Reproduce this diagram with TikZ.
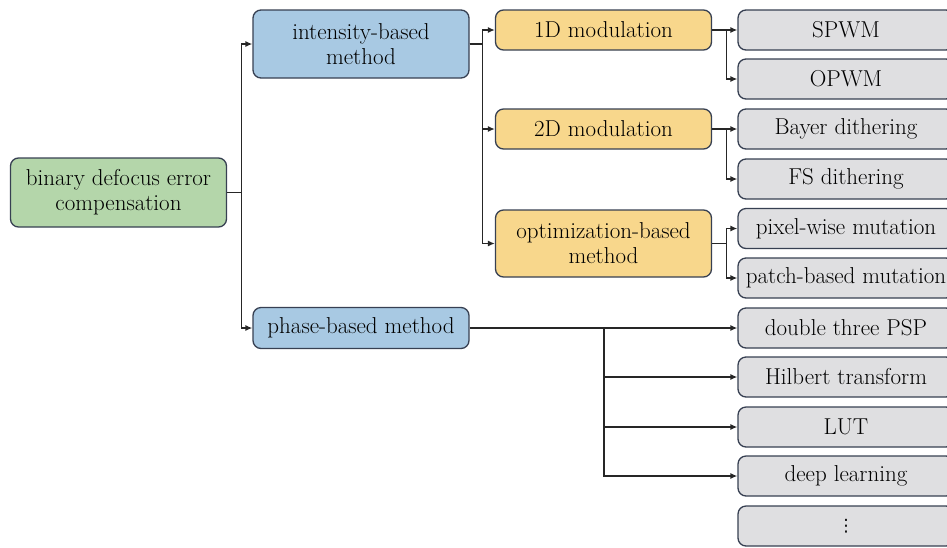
\documentclass[tikz,border=0pt]{standalone}
\usepackage{fontspec}
\usepackage{tikz}
\usetikzlibrary{arrows.meta}
\usepackage{xcolor}

\newfontfamily\dotsfont{DejaVu Sans}

\definecolor{rootgreen}{RGB}{180,214,170}
\definecolor{methblue}{RGB}{168,201,227}
\definecolor{modyellow}{RGB}{248,215,140}
\definecolor{leafgray}{RGB}{223,223,225}
\definecolor{edgeslate}{RGB}{55,64,82}

\tikzset{
  box/.style={draw=edgeslate, line width=1.3pt, rounded corners=8pt, align=center,
    minimum width=216pt, inner sep=1pt, font=\fontsize{23}{25}\selectfont},
  rootbox/.style={box, fill=rootgreen, minimum height=69pt},
  methodbox/.style={box, fill=methblue},
  modbox/.style={box, fill=modyellow},
  leafbox/.style={box, fill=leafgray, minimum height=40pt},
  link/.style={draw=black!85, line width=1.3pt, -{Latex[length=7pt,width=6pt]}}
}

\begin{document}
\begin{tikzpicture}[x=1pt,y=-1pt]
  \clip (0,0) rectangle (947,547);
  \useasboundingbox (0,0) rectangle (947,547);

  \node[rootbox] (BiDe) at (118.5,192.5) {binary defocus error\\compensation};

  \node[methodbox, minimum height=68pt] (InBa) at (361,44) {intensity-based\\method};
  \node[methodbox, minimum height=41pt] (PhBa) at (361,328) {phase-based method};

  \draw[link] (BiDe.east) -- ++(14,0) |- (InBa.west);
  \draw[link] (BiDe.east) -- ++(14,0) |- (PhBa.west);

  % %intensity branch
  \node[modbox, minimum height=40pt] (OnMo) at (603.5,30) {1D modulation};
  \node[modbox, minimum height=40pt] (TwMo) at (603.5,129) {2D modulation};
  \node[modbox, minimum height=67pt] (OpMe) at (603.5,243.5) {optimization-based\\method};

  \draw[link] (InBa.east) -- ++(13,0) |- (OnMo.west);
  \draw[link] (InBa.east) -- ++(13,0) |- (TwMo.west);
  \draw[link] (InBa.east) -- ++(13,0) |- (OpMe.west);

  \node[leafbox] (SPWM) at (846,30) {SPWM};
  \node[leafbox] (OPWM) at (846,79) {OPWM};
  \node[leafbox] (BaDi) at (846,129) {Bayer dithering};
  \node[leafbox] (FSDi) at (846,179) {FS dithering};
  \node[leafbox] (PiMu) at (846,228.5) {pixel-wise mutation};
  \node[leafbox] (PaMu) at (846,278) {patch-based mutation};

  \draw[link] (OnMo.east) -- ++(14,0) |- (SPWM.west);
  \draw[link] (OnMo.east) -- ++(14,0) |- (OPWM.west);
  \draw[link] (TwMo.east) -- ++(14,0) |- (BaDi.west);
  \draw[link] (TwMo.east) -- ++(14,0) |- (FSDi.west);
  \draw[link] (OpMe.east) -- ++(14,0) |- (PiMu.west);
  \draw[link] (OpMe.east) -- ++(14,0) |- (PaMu.west);

  % %phase branch
  \node[leafbox] (DTPS) at (846,328) {double three PSP};
  \node[leafbox] (HiTr) at (846,377) {Hilbert transform};
  \node[leafbox] (LUT) at (846,427) {LUT};
  \node[leafbox] (DeLe) at (846,476) {deep learning};
  \node[leafbox] (More) at (846,526) {\dotsfont\fontsize{17}{17}\selectfont ⋮};

  \draw[link] (PhBa.east) -- (DTPS.west);
  \coordinate (PhJo) at (604,328);
  \draw[link] (PhJo) |- (HiTr.west);
  \draw[link] (PhJo) |- (LUT.west);
  \draw[link] (PhJo) |- (DeLe.west);

\end{tikzpicture}
\end{document}
